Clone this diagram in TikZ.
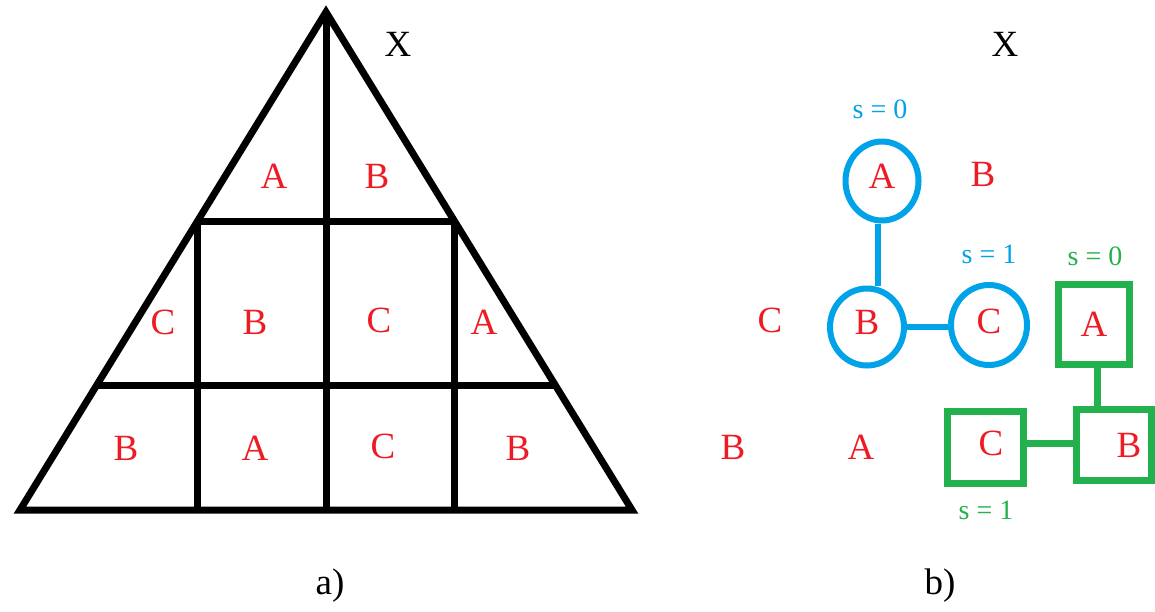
\documentclass[tikz,border=0pt]{standalone}
\usepackage{fontspec}
\setmainfont{Liberation Serif}
\usetikzlibrary{shapes.geometric,calc}
\definecolor{paintred}{HTML}{ED1C24}
\definecolor{paintblue}{HTML}{00A2E8}
\definecolor{paintgreen}{HTML}{22B14C}

\begin{document}
\begin{tikzpicture}[x=1pt,y=-1pt,
  grid/.style={line width=7pt,black},
  lbl/.style={text=paintred,font=\fontsize{37}{40}\selectfont,inner sep=0pt},
  blk/.style={text=black,font=\fontsize{37}{40}\selectfont,inner sep=0pt},
  sblue/.style={text=paintblue,font=\fontsize{28}{30}\selectfont,inner sep=0pt},
  sgreen/.style={text=paintgreen,font=\fontsize{28}{30}\selectfont,inner sep=0pt},
  bluering/.style={lbl,ellipse,draw=paintblue,line width=6pt},
  greenbox/.style={lbl,rectangle,draw=paintgreen,line width=7pt},
  blueline/.style={paintblue,line width=6pt},
  greenline/.style={paintgreen,line width=7pt}]
\useasboundingbox (0,0) rectangle (1155,611);

% a) triangle
\coordinate (apex) at (326,12);
\coordinate (bl) at (20,510);
\coordinate (br) at (632,510);
\coordinate (l1) at ($(apex)!0.4197!(bl)$);
\coordinate (r1) at ($(apex)!0.4197!(br)$);
\coordinate (l2) at ($(apex)!0.749!(bl)$);
\coordinate (r2) at ($(apex)!0.749!(br)$);
\draw[grid] (apex) -- (bl) -- (br) -- cycle;
\draw[grid] (l1) -- (r1);
\draw[grid] (l2) -- (r2);
\draw[grid] (apex) -- (apex |- bl);
\draw[grid] (l1) -- (l1 |- bl);
\draw[grid] (r1) -- (r1 |- bl);

\node[lbl] (ta1) at (274,176) {A};
\node[lbl] (tb1) at (377,176) {B};
\node[lbl] (tc2) at (163,322) {C};
\node[lbl] (tb2) at (255,322) {B};
\node[lbl] (tc3) at (379,320) {C};
\node[lbl] (ta2) at (484,322) {A};
\node[lbl] (tb3) at (126,448) {B};
\node[lbl] (ta3) at (255,448) {A};
\node[lbl] (tc4) at (383,446) {C};
\node[lbl] (tb4) at (518,448) {B};
\node[blk] (xa) at (398,44) {X};
\node[blk] (capa) at (330,586) {a)};

% b) graphs
\node[blk] (xb) at (1005,44) {X};
\node[lbl] (gb1) at (983,174) {B};
\node[lbl] (gc1) at (770,320) {C};
\node[lbl] (gb2) at (733,447) {B};
\node[lbl] (ga2) at (861,447) {A};

\node[bluering,minimum width=73pt,minimum height=79pt] (ca) at (882,181) {\raisebox{10pt}{A}};
\node[bluering,minimum width=74pt,minimum height=77pt] (cb) at (867,327) {\raisebox{10pt}{B}};
\node[bluering,minimum width=76pt,minimum height=80pt] (cc) at (989,325) {\raisebox{8pt}{C}};
\node[sblue] (s0b) at (880,109) {s = 0};
\node[sblue] (s1b) at (989,254) {s = 1};
\draw[blueline] ([xshift=-4pt]ca.south) -- ([xshift=-4pt]ca.south |- cb.north);
\draw[blueline] (cb.east) -- (cb.east -| cc.west);

\node[greenbox,minimum width=71pt,minimum height=80pt] (qa) at (1094,324) {\raisebox{-8pt}{A}};
\node[greenbox,minimum width=75pt,minimum height=71pt] (qb) at (1114,445) {\hspace*{30pt}B};
\node[greenbox,minimum width=76pt,minimum height=72pt] (qc) at (985,447) {\hspace*{12pt}\raisebox{8pt}{C}};
\node[sgreen] (s0g) at (1095,256) {s = 0};
\node[sgreen] (s1g) at (986,510) {s = 1};
\draw[greenline] ([xshift=3pt]qa.south) -- ([xshift=3pt]qa.south |- qb.north);
\draw[greenline] ([yshift=4pt]qc.east) -- ([yshift=4pt]qc.east -| qb.west);

\node[blk] (capb) at (940,586) {b)};
\end{tikzpicture}
\end{document}
